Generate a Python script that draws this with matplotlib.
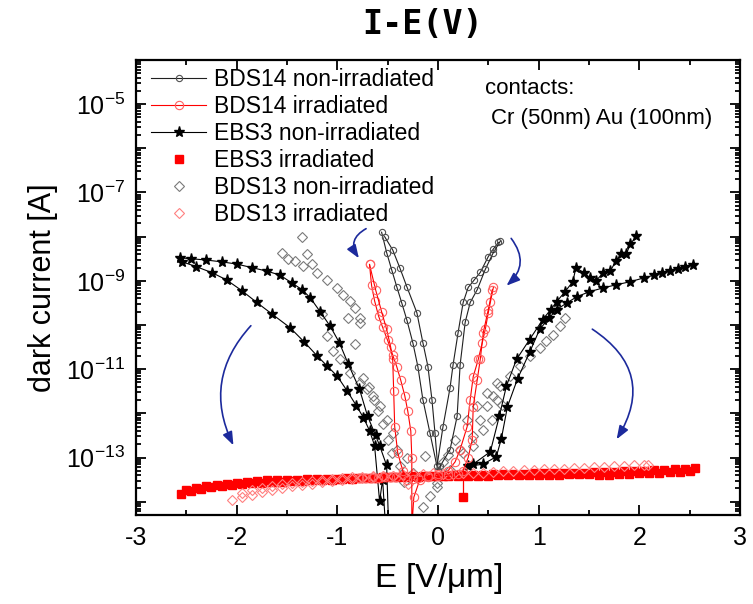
import numpy as np
import matplotlib.pyplot as plt
from matplotlib.ticker import LogLocator, FuncFormatter, MultipleLocator, NullFormatter

plt.rcParams['font.family'] = ['Liberation Sans', 'DejaVu Sans']
plt.rcParams['mathtext.fontset'] = 'custom'
plt.rcParams['mathtext.rm'] = 'Liberation Sans'
plt.rcParams['mathtext.default'] = 'regular'

# field E [V/um] and log10 of dark current [A], one list per sweep

# BDS14 non-irradiated
bds14_non_E1 = [-0.56, -0.51, -0.46, -0.41, -0.36, -0.31, -0.25, -0.20, -0.15, -0.08, -0.01,
                0.05, 0.12, 0.15, 0.20, 0.25, 0.30, 0.36, 0.42, 0.50, 0.55, 0.60]
bds14_non_L1 = [-7.90, -8.36, -8.75, -9.13, -9.50, -9.88, -10.40, -10.94, -11.69, -12.44, -13.20,
                -12.30, -11.42, -10.90, -10.17, -9.49, -9.15, -8.98, -8.81, -8.45, -8.28, -8.13]
bds14_non_E2 = [-0.53, -0.45, -0.38, -0.31, -0.21, -0.15, -0.10, -0.06, -0.03, 0.00,
                0.02, 0.12, 0.19, 0.22, 0.27, 0.32, 0.39, 0.47, 0.55, 0.62]
bds14_non_L2 = [-8.00, -8.30, -8.70, -9.13, -9.72, -10.40, -10.94, -11.69, -12.44, -13.28,
                -13.20, -12.82, -12.07, -10.90, -9.94, -9.49, -9.20, -8.74, -8.36, -8.10]

# BDS14 irradiated
bds14_irr_E1 = [-0.68, -0.66, -0.63, -0.59, -0.55, -0.50, -0.45, -0.41, -0.37, -0.33, -0.30, -0.27,
                -0.26, -0.26, -0.24, -0.18, -0.10, 0.00, 0.10, 0.17, 0.22, 0.29, 0.32, 0.35,
                0.40, 0.44, 0.47, 0.50, 0.52, 0.55]
bds14_irr_L1 = [-8.63, -9.10, -9.45, -9.80, -10.05, -10.35, -10.68, -10.94, -11.25, -11.60, -11.95, -12.40,
                -13.00, -14.60, -13.90, -13.50, -13.42, -13.38, -13.30, -13.10, -12.82, -12.30, -11.69, -11.17,
                -10.78, -10.40, -10.10, -9.72, -9.49, -9.15]
bds14_irr_E2 = [-0.68, -0.62, -0.56, -0.51, -0.47, -0.45, -0.44, -0.43, -0.40, -0.35, -0.31, -0.25,
                -0.20, -0.10, 0.00, 0.10, 0.20, 0.25, 0.30, 0.34, 0.35, 0.39, 0.42, 0.45, 0.50, 0.54]
bds14_irr_L2 = [-8.63, -9.20, -9.70, -10.10, -10.50, -10.78, -11.50, -12.30, -12.89, -13.30, -13.50, -13.48,
                -13.46, -13.44, -13.42, -13.40, -13.37, -13.30, -13.00, -12.60, -11.85, -11.24, -10.78, -10.17, -9.65, -9.20]
bds14_irr_E3 = [-0.78, -0.72, -0.66, -0.60, -0.54, -0.48, -0.42]
bds14_irr_L3 = [-13.47, -13.47, -13.46, -13.46, -13.45, -13.45, -13.44]

# EBS3 non-irradiated
ebs3_non_E1 = [-2.56, -2.45, -2.30, -2.15, -2.00, -1.85, -1.70, -1.57, -1.45, -1.35, -1.27, -1.17,
               -1.07, -0.98, -0.89, -0.78, -0.70, -0.62, -0.58, -0.51, -0.49]
ebs3_non_L1 = [-8.48, -8.50, -8.53, -8.57, -8.62, -8.70, -8.78, -8.87, -9.05, -9.20, -9.38, -9.70,
               -10.03, -10.40, -10.89, -11.45, -12.06, -12.50, -12.73, -13.18, -14.60]
ebs3_non_E2 = [-2.54, -2.40, -2.24, -2.10, -1.95, -1.80, -1.65, -1.47, -1.33, -1.20, -1.10, -1.00,
               -0.90, -0.81, -0.74, -0.68, -0.63, -0.58, -0.55, -0.52]
ebs3_non_L2 = [-8.57, -8.68, -8.82, -8.98, -9.22, -9.49, -9.75, -10.06, -10.38, -10.70, -10.93, -11.16,
               -11.50, -11.83, -12.10, -12.39, -12.73, -13.99, -13.50, -14.60]
ebs3_non_E3 = [0.30, 0.45, 0.58, 0.63, 0.69, 0.79, 0.91, 1.01, 1.10, 1.18, 1.28, 1.38, 1.50, 1.64,
               1.77, 1.91, 2.05, 2.15, 2.23, 2.30, 2.38, 2.45, 2.53]
ebs3_non_L3 = [-13.20, -13.15, -12.98, -12.57, -11.85, -11.22, -10.62, -10.10, -9.85, -9.65, -9.50, -9.36,
               -9.25, -9.16, -9.09, -9.02, -8.93, -8.87, -8.82, -8.78, -8.73, -8.69, -8.64]
ebs3_non_E4 = [0.35, 0.52, 0.61, 0.68, 0.78, 0.91, 1.04, 1.12, 1.18, 1.26, 1.34, 1.37, 1.45, 1.51,
               1.57, 1.64, 1.71, 1.77, 1.82, 1.87, 1.91, 1.97]
ebs3_non_L4 = [-13.15, -12.87, -12.06, -11.38, -10.78, -10.33, -9.88, -9.65, -9.47, -9.25, -9.02, -8.70,
               -8.82, -8.93, -9.00, -8.82, -8.78, -8.55, -8.40, -8.40, -8.17, -7.99]

# EBS3 irradiated (two interleaved sweeps)
ebs3_irr_E1 = [-2.55, -2.45, -2.35, -2.25, -2.15, -2.05, -1.95, -1.85, -1.75, -1.65, -1.55, -1.45,
               -1.35, -1.25, -1.15, -1.05, -0.95, -0.85, -0.75, -0.65, -0.55, -0.45, -0.35, -0.25,
               -0.15, -0.05, 0.05, 0.15, 0.25, 0.35, 0.45, 0.55, 0.65, 0.75, 0.85, 0.95, 1.05,
               1.15, 1.25, 1.35, 1.45, 1.55, 1.65, 1.75, 1.85, 1.95, 2.05, 2.15, 2.25, 2.35, 2.45, 2.55]
ebs3_irr_L1 = [-13.82, -13.76, -13.71, -13.67, -13.64, -13.62, -13.60, -13.58, -13.57, -13.56, -13.55, -13.54,
               -13.53, -13.52, -13.51, -13.50, -13.49, -13.48, -13.47, -13.46, -13.45, -13.44, -13.43, -13.43,
               -13.42, -13.41, -13.41, -13.40, -13.40, -13.39, -13.39, -13.38, -13.38, -13.37, -13.37, -13.36, -13.36,
               -13.35, -13.35, -13.34, -13.34, -13.33, -13.33, -13.32, -13.31, -13.31, -13.30, -13.29, -13.28, -13.27, -13.26, -13.24]
ebs3_irr_E2 = [-2.50, -2.40, -2.30, -2.20, -2.10, -2.00, -1.90, -1.80, -1.70, -1.60, -1.50, -1.40,
               -1.30, -1.20, -1.10, -1.00, -0.90, -0.80, -0.70, -0.60, -0.50, -0.40, -0.30, -0.20,
               -0.10, 0.00, 0.10, 0.20, 0.30, 0.40, 0.50, 0.60, 0.70, 0.80, 0.90, 1.00, 1.10,
               1.20, 1.30, 1.40, 1.50, 1.60, 1.70, 1.80, 1.90, 2.00, 2.10, 2.20, 2.30, 2.40, 2.50]
ebs3_irr_L2 = [-13.74, -13.69, -13.65, -13.62, -13.59, -13.57, -13.55, -13.54, -13.52, -13.51, -13.50, -13.50,
               -13.49, -13.49, -13.48, -13.48, -13.47, -13.47, -13.46, -13.46, -13.45, -13.45, -13.44, -13.44,
               -13.43, -13.43, -13.42, -13.42, -13.41, -13.41, -13.41, -13.40, -13.40, -13.40, -13.39, -13.39, -13.39,
               -13.39, -13.38, -13.38, -13.38, -13.40, -13.39, -13.38, -13.37, -13.36, -13.35, -13.34, -13.33, -13.32, -13.31]
ebs3_irr_spike_E = [0.25, 0.25]
ebs3_irr_spike_L = [-13.40, -13.90]

# BDS13 non-irradiated
bds13_non_E = [-1.355, -1.553, -1.487, -1.421, -1.305, -1.338, -1.256, -1.206, -1.107, -1.007, -0.941,
               -0.875, -0.825, -0.776, -0.891, -0.776, -1.156, -1.107, -0.825, -1.040, -0.974, -0.875,
               -0.776, -0.710, -0.643, -0.577, -0.511, -0.445, -0.412, -0.312, -0.246, -0.130, -0.147,
               -0.080, -0.014, -0.74, -0.69, -0.64, -0.60, -0.55, -0.50, -0.46, -0.38, -0.34,
               -0.014, 0.118, 0.250, 0.350, 0.416, 0.482, 0.548, 0.614, 0.714, 0.813, 0.913, 1.012,
               1.078, 1.144, 1.211, 1.260, 0.284, 0.383, 0.482, 0.582, 0.582, 0.449, 0.350, 0.217,
               0.532, 0.631, 0.05, 0.10, 0.17]
bds13_non_L = [-8.00, -8.36, -8.50, -8.55, -8.40, -8.67, -8.63, -8.82, -8.97, -9.16, -9.31,
               -9.46, -9.61, -9.84, -9.84, -9.95, -9.76, -10.25, -10.44, -10.59, -10.78, -11.08,
               -11.31, -11.46, -11.61, -11.84, -12.14, -12.45, -12.82, -13.01, -13.35, -12.97, -14.11,
               -13.88, -13.66, -11.20, -11.40, -11.70, -11.95, -12.25, -12.60, -12.90, -13.20, -13.55,
               -13.58, -13.28, -12.90, -12.52, -12.14, -11.84, -11.61, -11.39, -11.16, -10.93, -10.71, -10.52,
               -10.37, -10.22, -10.03, -9.84, -12.14, -11.84, -11.54, -11.31, -11.69, -12.37, -12.75, -12.82,
               -12.14, -11.80, -13.10, -12.95, -12.60]

# BDS13 irradiated (two sweeps)
bds13_irr_E1 = [-2.05, -1.95, -1.85, -1.75, -1.65, -1.55, -1.45, -1.35, -1.25, -1.15, -1.05, -0.95,
                -0.85, -0.75, -0.65, -0.55, -0.45, -0.35, -0.25, -0.15, -0.05, 0.05, 0.15, 0.25,
                0.35, 0.45, 0.55, 0.65, 0.75, 0.85, 0.95, 1.05, 1.15, 1.25, 1.35, 1.45, 1.55,
                1.65, 1.75, 1.85, 1.95, 2.05, 2.09]
bds13_irr_L1 = [-13.96, -13.90, -13.84, -13.78, -13.73, -13.69, -13.65, -13.62, -13.59, -13.56, -13.53, -13.51,
                -13.49, -13.47, -13.45, -13.43, -13.41, -13.40, -13.38, -13.37, -13.36, -13.38, -13.37, -13.36,
                -13.35, -13.34, -13.32, -13.31, -13.30, -13.29, -13.28, -13.27, -13.26, -13.25, -13.24, -13.23, -13.22,
                -13.21, -13.20, -13.19, -13.18, -13.17, -13.16]
bds13_irr_E2 = [-1.95, -1.85, -1.75, -1.65, -1.55, -1.45, -1.35, -1.25, -1.15, -1.05, -0.95, -0.85,
                -0.75, -0.65, -0.55, -0.45, -0.35, -0.30]
bds13_irr_L2 = [-13.80, -13.74, -13.69, -13.65, -13.61, -13.58, -13.55, -13.53, -13.51, -13.49, -13.47, -13.45,
                -13.44, -13.43, -13.42, -13.41, -13.40, -13.60]

# curved guide arrows: (E_start, logI_start, E_end, logI_end, rad)
arrows = [(-1.84, -9.97, -2.02, -12.78, 0.35),
          (-0.69, -7.79, -0.77, -8.54, 0.6),
          (0.71, -7.99, 0.66, -9.15, -0.5),
          (1.51, -10.06, 1.76, -12.64, -0.5)]

legend_labels = ['BDS14 non-irradiated', 'BDS14 irradiated', 'EBS3 non-irradiated',
                 'EBS3 irradiated', 'BDS13 non-irradiated', 'BDS13 irradiated']


def curr(logs):
    return 10.0 ** np.asarray(logs)


fig = plt.figure(figsize=(7.53, 6.04), dpi=100)
ax = fig.add_axes([0.1806, 0.1474, 0.8021, 0.7533])
ax.set_yscale('log')

gray = '#505050'
red = '#ff0000'

# BDS13 non-irradiated: grey open diamonds
h5, = ax.plot(bds13_non_E, curr(bds13_non_L), ls='none', marker='D', ms=5.5, mfc='none',
              mec='#7a7a7a', mew=0.8)

# EBS3 non-irradiated: black stars with line
for e, l in [(ebs3_non_E1, ebs3_non_L1), (ebs3_non_E2, ebs3_non_L2),
             (ebs3_non_E3, ebs3_non_L3), (ebs3_non_E4, ebs3_non_L4)]:
    h3, = ax.plot(e, curr(l), color='black', lw=0.8, marker='*', ms=8, mec='black', mfc='black')

# BDS14 non-irradiated: small grey circles with line
for e, l in [(bds14_non_E1, bds14_non_L1), (bds14_non_E2, bds14_non_L2)]:
    h1, = ax.plot(e, curr(l), color='#202020', lw=0.8, marker='o', ms=4.5, mfc='none', mec=gray, mew=0.8)

# EBS3 irradiated: filled red squares
h4, = ax.plot(ebs3_irr_E1, curr(ebs3_irr_L1), ls='none', marker='s', ms=6, color=red, mec=red)
ax.plot(ebs3_irr_E2, curr(ebs3_irr_L2), ls='none', marker='s', ms=6, color=red, mec=red)
ax.plot(ebs3_irr_spike_E, curr(ebs3_irr_spike_L), color=red, lw=0.9)
ax.plot(ebs3_irr_spike_E[1:], curr(ebs3_irr_spike_L[1:]), ls='none', marker='s', ms=6, color=red)

# BDS13 irradiated: red open diamonds
h6, = ax.plot(bds13_irr_E1, curr(bds13_irr_L1), ls='none', marker='D', ms=5.5, mfc='none',
              mec='#ff8080', mew=0.8)
ax.plot(bds13_irr_E2, curr(bds13_irr_L2), ls='none', marker='D', ms=5.5, mfc='none',
        mec='#ff8080', mew=0.8)

# BDS14 irradiated: red open circles with line
for e, l in [(bds14_irr_E1, bds14_irr_L1), (bds14_irr_E2, bds14_irr_L2)]:
    h2, = ax.plot(e, curr(l), color=red, lw=0.8, marker='o', ms=6, mfc='none', mec='#ff6060', mew=0.8)
ax.plot(bds14_irr_E3, curr(bds14_irr_L3), ls='none', marker='o', ms=6, mfc='none', mec='#ff6060', mew=0.8)

for e0, l0, e1, l1, rad in arrows:
    ax.annotate('', xy=(e1, 10 ** l1), xytext=(e0, 10 ** l0),
                arrowprops=dict(arrowstyle='-|>,head_length=0.8,head_width=0.3', color='#1c2a9c',
                                lw=1.2, connectionstyle='arc3,rad=%s' % rad))

ax.set_xlim(-3, 3)
ax.set_ylim(5e-15, 1e-4)
ax.xaxis.set_major_locator(MultipleLocator(1))
ax.xaxis.set_minor_locator(MultipleLocator(0.5))
ax.yaxis.set_major_locator(LogLocator(base=10, numticks=30))
ax.yaxis.set_minor_locator(LogLocator(base=10, subs=np.arange(2, 10), numticks=30))
ax.yaxis.set_minor_formatter(NullFormatter())


def fmt_y(v, pos):
    p = int(round(np.log10(v)))
    return r'$10^{%d}$' % p if p % 2 else ''


ax.yaxis.set_major_formatter(FuncFormatter(fmt_y))
ax.xaxis.set_major_formatter(FuncFormatter(lambda v, pos: '%d' % v))
ax.tick_params(which='both', direction='in', top=True, right=True, labelsize=18, width=1.3)
ax.tick_params(which='major', length=7, pad=8)
ax.tick_params(which='minor', length=3.5)
for s in ax.spines.values():
    s.set_linewidth(1.6)

ax.set_xlabel(r'E [V/$\mu$m]', fontsize=24, labelpad=8)
ax.set_ylabel('dark current [A]', fontsize=22, labelpad=6)

leg = ax.legend([h1, h2, h3, h4, h5, h6], legend_labels, loc='upper left', frameon=False,
                fontsize=16.5, handlelength=2.4, handletextpad=0.35, labelspacing=0.18,
                borderaxespad=0.0, bbox_to_anchor=(0.01, 1.003), numpoints=1)

ax.text(0.578, 0.926, 'contacts:', transform=ax.transAxes, fontsize=16)
ax.text(0.587, 0.859, 'Cr (50nm) Au (100nm)', transform=ax.transAxes, fontsize=16)

fig.text(423 / 753, 1 - 24 / 604, 'I-E(V)', ha='center', va='center', fontsize=24,
         fontweight='bold', family='DejaVu Sans Mono')

fig.savefig('out.png', dpi=100)
